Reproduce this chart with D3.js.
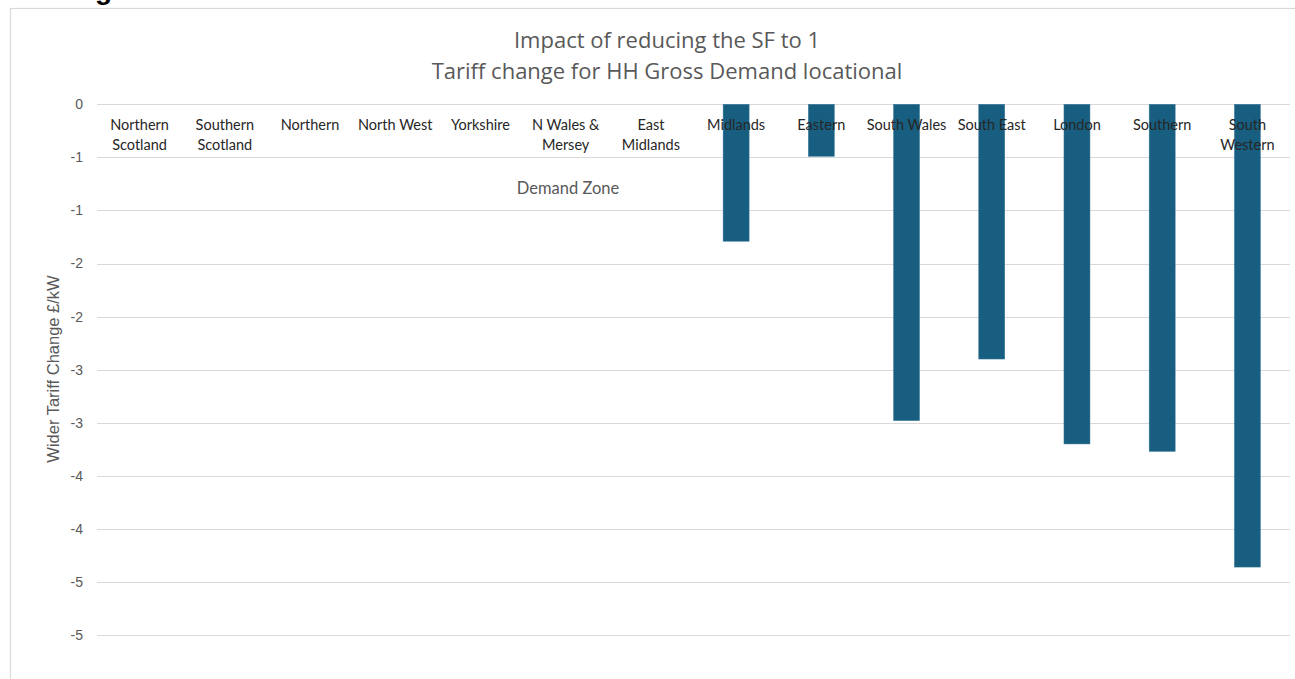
<!DOCTYPE html>
<html>
<head>
<meta charset="utf-8">
<script src="https://cdn.jsdelivr.net/npm/d3@7"></script>
<style>
  html, body { margin: 0; padding: 0; background: #fff; }
  svg { display: block; }
</style>
</head>
<body>
<svg id="chart" width="1295" height="679"></svg>
<script>
const categories = [
  "Northern\nScotland", "Southern\nScotland", "Northern", "North West", "Yorkshire",
  "N Wales &\nMersey", "East\nMidlands", "Midlands", "Eastern", "South Wales",
  "South East", "London", "Southern", "South\nWestern"
];
const values = [0, 0, 0, 0, 0, 0, 0, -1.29, -0.49, -2.98, -2.40, -3.20, -3.27, -4.36];
const tickValues = [0, -0.5, -1, -1.5, -2, -2.5, -3, -3.5, -4, -4.5, -5];
const tickLabels = ["0", "-1", "-1", "-2", "-2", "-3", "-3", "-4", "-4", "-5", "-5"];
const titleLines = ["Impact of reducing the SF to 1", "Tariff change for HH Gross Demand locational"];
const xTitle = "Demand Zone";
const yTitle = "Wider Tariff Change £/kW";

const svg = d3.select("#chart");
const font = "Lato, 'Open Sans', sans-serif";
const plot = { left: 97, right: 1290, top: 104.3, bottom: 635 };

// clipped heading above the chart frame (only the descender shows)
svg.append("text").attr("x", 70).attr("y", -1)
  .attr("font-family", "'Liberation Sans', Arial, sans-serif")
  .attr("font-weight", "bold").attr("font-size", 28).attr("fill", "#000")
  .text("Fig");

// chart frame
svg.append("rect").attr("x", 10.5).attr("y", 8.5).attr("width", 1400).attr("height", 800)
  .attr("fill", "#fff").attr("stroke", "#d9d9d9").attr("stroke-width", 1.2);

const x = d3.scaleBand().domain(categories).range([plot.left, plot.right]).paddingInner(0.695).paddingOuter(0.3475);
const y = d3.scaleLinear().domain([0, -5]).range([plot.top, plot.bottom]);

// gridlines
svg.append("g").selectAll("line").data(tickValues).join("line")
  .attr("x1", plot.left).attr("x2", plot.right)
  .attr("y1", d => Math.round(y(d)) + 0.5).attr("y2", d => Math.round(y(d)) + 0.5)
  .attr("stroke", "#d9d9d9").attr("stroke-width", 1.2);

// y axis labels
const yAxis = d3.axisLeft(y).tickValues(tickValues).tickSize(0).tickPadding(0)
  .tickFormat((d, i) => tickLabels[i]);
const yg = svg.append("g").attr("transform", `translate(${plot.left - 14},0)`).call(yAxis);
yg.select(".domain").remove();
yg.selectAll("text").attr("font-family", "'Liberation Sans', Arial, sans-serif").attr("font-size", 14).attr("fill", "#595959");

// bars
svg.append("g").selectAll("rect").data(values).join("rect")
  .attr("x", (d, i) => x(categories[i]))
  .attr("width", x.bandwidth())
  .attr("y", d => y(Math.max(0, d)))
  .attr("height", d => Math.abs(y(d) - y(0)))
  .attr("fill", "#175e80")
  .attr("stroke", "#3a7a99").attr("stroke-width", 0.5);

// category labels (drawn over bars)
const cg = svg.append("g");
categories.forEach(c => {
  const t = cg.append("text")
    .attr("x", x(c) + x.bandwidth() / 2).attr("y", 130)
    .attr("text-anchor", "middle").attr("font-family", font)
    .attr("font-size", 14.5).attr("fill", "#262626");
  c.split("\n").forEach((line, k) => {
    t.append("tspan").attr("x", x(c) + x.bandwidth() / 2).attr("dy", k === 0 ? 0 : 20).text(line);
  });
});

// axis titles
svg.append("text").attr("x", 568).attr("y", 194).attr("text-anchor", "middle")
  .attr("font-family", font).attr("font-size", 16.5).attr("fill", "#595959").text(xTitle);
svg.append("text").attr("transform", "translate(59,369) rotate(-90)").attr("text-anchor", "middle")
  .attr("font-family", "'Liberation Sans', Arial, sans-serif").attr("font-size", 16.5).attr("fill", "#595959").text(yTitle);

// chart title
const tt = svg.append("text").attr("x", 667).attr("y", 48).attr("text-anchor", "middle")
  .attr("font-family", "'Open Sans', Lato, sans-serif").attr("font-size", 22).attr("fill", "#595959");
titleLines.forEach((l, k) => tt.append("tspan").attr("x", 667).attr("dy", k === 0 ? 0 : 31).text(l));
</script>
</body>
</html>
